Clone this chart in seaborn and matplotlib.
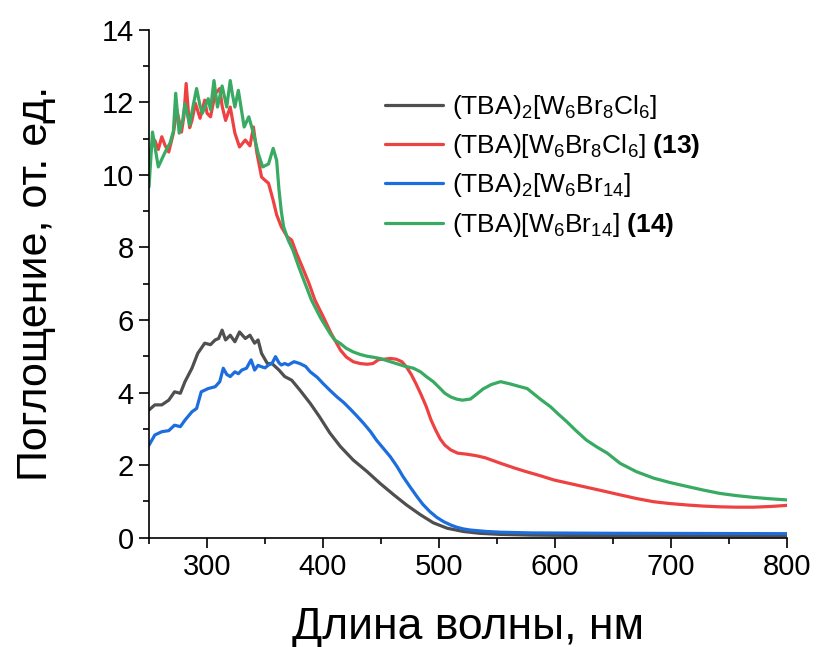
import matplotlib
matplotlib.use('Agg')
import matplotlib.pyplot as plt
import pandas as pd
import seaborn as sns
from matplotlib.ticker import MultipleLocator

# Spectra (wavelength, nm / absorbance, a.u.)
wl_tba2_cl = [250, 255, 261, 267, 272, 277, 281, 287, 292, 298, 303, 307, 310, 313, 316, 320, 324, 328,
              333, 337, 341, 344, 347, 352, 356, 362, 367, 373, 380, 389, 397, 406, 415, 426, 438, 449,
              461, 472, 484, 495, 507, 521, 535, 553, 580, 620, 700, 800]
abs_tba2_cl = [3.52, 3.66, 3.66, 3.79, 4.02, 3.98, 4.30, 4.67, 5.08, 5.36, 5.32, 5.45, 5.49, 5.72, 5.45, 5.58,
               5.40, 5.67, 5.49, 5.58, 5.36, 5.45, 5.08, 4.80, 4.80, 4.62, 4.44, 4.34, 4.07, 3.70, 3.33, 2.88,
               2.51, 2.14, 1.82, 1.50, 1.18, 0.90, 0.63, 0.41, 0.26, 0.17, 0.12, 0.09, 0.07, 0.06, 0.05, 0.05]

wl_tba_cl = [250, 253, 255, 258, 261, 264, 267, 271, 274, 278, 280, 282, 285, 287, 290, 294, 298, 300, 303,
             307, 311, 313, 316, 320, 324, 328, 333, 337, 340, 343, 347, 350, 353, 357, 360, 364, 369, 373,
             377, 382, 388, 393, 400, 407, 411, 415, 420, 426, 432, 438, 443, 448, 453, 458, 463, 468, 472,
             476, 480, 484, 489, 493, 497, 501, 505, 510, 516, 524, 532, 540, 553, 565, 575, 587, 599, 613,
             627, 641, 656, 670, 685, 699, 714, 728, 742, 756, 771, 786, 800]
abs_tba_cl = [10.45, 10.90, 10.95, 10.70, 11.05, 10.80, 10.63, 11.15, 11.78, 11.18, 11.60, 12.52, 11.30,
              11.50, 11.97, 11.56, 12.06, 11.70, 11.60, 12.24, 12.38, 11.90, 11.50, 11.87, 11.15, 10.77,
              10.96, 10.80, 11.32, 10.60, 9.94, 9.85, 9.77, 9.30, 8.90, 8.57, 8.30, 8.20, 7.85, 7.47, 7.00,
              6.55, 6.10, 5.63, 5.40, 5.17, 4.98, 4.85, 4.80, 4.78, 4.80, 4.91, 4.92, 4.94, 4.92, 4.85,
              4.70, 4.50, 4.25, 3.98, 3.61, 3.25, 2.97, 2.72, 2.55, 2.42, 2.33, 2.30, 2.26, 2.20, 2.05,
              1.92, 1.82, 1.71, 1.59, 1.49, 1.39, 1.29, 1.18, 1.08, 0.99, 0.94, 0.90, 0.87, 0.85, 0.84,
              0.84, 0.86, 0.89]

wl_tba2_br = [250, 255, 261, 267, 272, 277, 281, 287, 291, 295, 301, 307, 311, 314, 317, 320, 324, 327, 330,
              334, 338, 341, 344, 347, 350, 353, 356, 359, 362, 364, 367, 370, 375, 380, 385, 389, 395, 400,
              406, 412, 418, 423, 429, 435, 441, 446, 452, 458, 464, 469, 475, 481, 486, 492, 498, 504, 510,
              515, 521, 527, 541, 553, 580, 650, 800]
abs_tba2_br = [2.55, 2.83, 2.92, 2.95, 3.10, 3.06, 3.24, 3.47, 3.56, 4.02, 4.11, 4.16, 4.30, 4.67, 4.50,
               4.44, 4.57, 4.52, 4.62, 4.67, 4.90, 4.62, 4.75, 4.71, 4.68, 4.76, 4.80, 4.99, 4.82, 4.76,
               4.80, 4.76, 4.85, 4.80, 4.72, 4.57, 4.42, 4.25, 4.06, 3.88, 3.72, 3.56, 3.36, 3.15, 2.92,
               2.69, 2.46, 2.23, 1.95, 1.68, 1.40, 1.13, 0.92, 0.72, 0.56, 0.44, 0.35, 0.29, 0.24, 0.21,
               0.17, 0.15, 0.13, 0.12, 0.11]

wl_tba_br = [250, 253, 256, 258, 262, 265, 268, 271, 273, 276, 279, 281, 285, 288, 291, 294, 296, 301, 303,
             306, 309, 313, 317, 320, 322, 324, 327, 332, 336, 340, 344, 348, 353, 357, 360, 362, 364, 366,
             370, 374, 379, 384, 390, 398, 406, 410, 415, 420, 426, 432, 438, 444, 449, 456, 463, 470, 478,
             484, 489, 495, 501, 505, 510, 515, 520, 527, 533, 538, 545, 553, 561, 570, 576, 581, 588, 596,
             603, 610, 618, 627, 636, 645, 656, 670, 685, 699, 714, 728, 742, 756, 771, 786, 800]
abs_tba_br = [9.67, 11.18, 10.60, 10.22, 10.50, 10.70, 10.87, 11.20, 12.25, 11.15, 11.50, 11.97, 11.37,
              11.90, 12.38, 11.90, 11.70, 12.10, 11.80, 12.60, 11.87, 12.45, 11.87, 12.60, 12.20, 11.87,
              12.33, 11.32, 11.60, 11.15, 10.60, 10.22, 10.30, 10.73, 10.40, 9.60, 9.00, 8.57, 8.20, 7.93,
              7.47, 7.05, 6.55, 6.05, 5.63, 5.45, 5.35, 5.22, 5.12, 5.05, 5.00, 4.97, 4.94, 4.87, 4.80,
              4.73, 4.67, 4.57, 4.44, 4.30, 4.11, 3.98, 3.88, 3.82, 3.79, 3.82, 3.97, 4.10, 4.22, 4.30,
              4.24, 4.16, 4.11, 3.98, 3.80, 3.61, 3.40, 3.20, 2.95, 2.69, 2.50, 2.33, 2.05, 1.82, 1.64,
              1.52, 1.41, 1.31, 1.22, 1.16, 1.11, 1.07, 1.04]

labels = [r'(TBA)$_2$[W$_6$Br$_8$Cl$_6$]',
          r'(TBA)[W$_6$Br$_8$Cl$_6$] $\mathbf{(13)}$',
          r'(TBA)$_2$[W$_6$Br$_{14}$]',
          r'(TBA)[W$_6$Br$_{14}$] $\mathbf{(14)}$']
colors = ['#4f4f4f', '#ee4242', '#1c6ddd', '#38aa62']

frames = []
for lab, wl, ab in zip(labels,
                       [wl_tba2_cl, wl_tba_cl, wl_tba2_br, wl_tba_br],
                       [abs_tba2_cl, abs_tba_cl, abs_tba2_br, abs_tba_br]):
    frames.append(pd.DataFrame({'wl': wl, 'abs': ab, 'sample': lab}))
df = pd.concat(frames, ignore_index=True)

sns.set_style('ticks')
plt.rcParams['font.family'] = ['Liberation Sans', 'DejaVu Sans']
plt.rcParams['text.color'] = 'black'
plt.rcParams['axes.labelcolor'] = 'black'
plt.rcParams['mathtext.fontset'] = 'custom'
plt.rcParams['mathtext.rm'] = 'Liberation Sans'
plt.rcParams['mathtext.it'] = 'Liberation Sans:italic'
plt.rcParams['mathtext.bf'] = 'Liberation Sans:bold'

fig = plt.figure(figsize=(8.17, 6.47), dpi=100)
ax = fig.add_axes([0.1824, 0.169, 0.781, 0.785])

sns.lineplot(data=df, x='wl', y='abs', hue='sample', hue_order=labels, palette=colors,
             estimator=None, sort=False, linewidth=2.3, ax=ax)

ax.set_xlim(250, 800)
ax.set_ylim(0, 14)
ax.xaxis.set_major_locator(MultipleLocator(100))
ax.xaxis.set_minor_locator(MultipleLocator(50))
ax.yaxis.set_major_locator(MultipleLocator(2))
ax.yaxis.set_minor_locator(MultipleLocator(1))
ax.tick_params(which='major', length=7, width=1.2, labelsize=21, pad=4, color='black', labelcolor='black')
ax.tick_params(which='minor', length=4, width=1.2, color='black')
for side in ['top', 'right']:
    ax.spines[side].set_visible(False)
for side in ['left', 'bottom']:
    ax.spines[side].set_linewidth(1.2)
    ax.spines[side].set_color('black')

ax.set_xlabel('Длина волны, нм', fontsize=32, labelpad=19)
ax.set_ylabel('Поглощение, от. ед.', fontsize=31, labelpad=33)

ax.legend(loc='upper left', bbox_to_anchor=(0.37, 0.876), frameon=False, fontsize=19,
          handlelength=2.2, handletextpad=0.35, labelspacing=0.43, borderpad=0, borderaxespad=0)

fig.savefig('out.png', dpi=100)
